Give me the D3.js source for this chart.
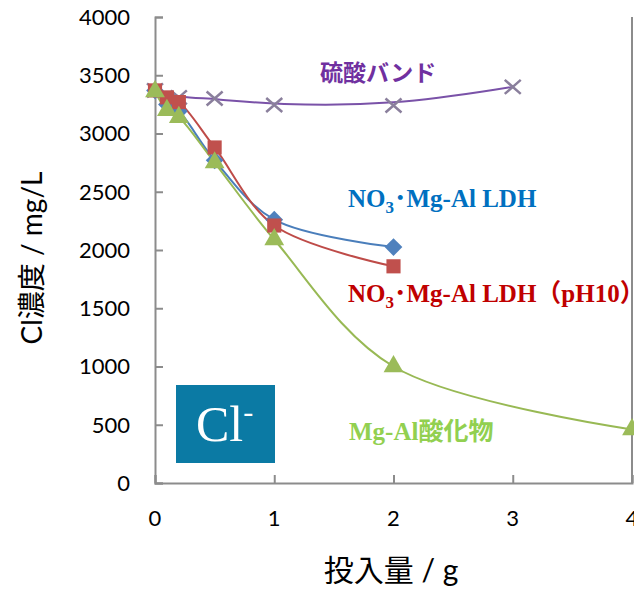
<!DOCTYPE html>
<html><head><meta charset="utf-8">
<script src="https://cdn.jsdelivr.net/npm/d3@7/dist/d3.min.js"></script>
<style>body{margin:0;background:#fff}svg{display:block}</style>
</head><body>
<svg id="c" width="634" height="590"></svg>
<script>
// ---- data ----
const xTicks = [0, 1, 2, 3, 4];
const yTicks = [0, 500, 1000, 1500, 2000, 2500, 3000, 3500, 4000];

const sulfateX = [0, 0.2, 0.5, 1, 2, 3];
const sulfateY = [3370, 3310, 3300, 3245, 3240, 3400];

const ldhX = [0, 0.1, 0.2, 0.5, 1, 2];
const ldhY = [3370, 3250, 3190, 2770, 2260, 2025];

const ldhPhX = [0, 0.1, 0.2, 0.5, 1, 2];
const ldhPhY = [3370, 3310, 3270, 2880, 2210, 1860];

const oxideX = [0, 0.1, 0.2, 0.5, 1, 2, 4];
const oxideY = [3360, 3200, 3140, 2750, 2090, 1000, 460];

const svg = d3.select("#c");
const x = d3.scaleLinear().domain([0, 4]).range([155, 632]);
const y = d3.scaleLinear().domain([0, 4000]).range([483, 17]);

const axisColor = "#8c8c8c";
const tickFont = "Lato, 'Noto Sans CJK JP', sans-serif";

// axes
const yAxis = svg.append("g").attr("transform", `translate(${x(0)},0)`)
  .call(d3.axisRight(y).tickValues(yTicks).tickSize(8).tickFormat(""));
const xAxis = svg.append("g").attr("transform", `translate(0,${y(0)})`)
  .call(d3.axisTop(x).tickValues(xTicks).tickSize(8).tickFormat(""));
[yAxis, xAxis].forEach(g => {
  g.selectAll("path").attr("stroke", axisColor).attr("stroke-width", 2);
  g.selectAll("line").attr("stroke", axisColor).attr("stroke-width", 2);
});
// right border
svg.append("line").attr("x1", x(4)).attr("x2", x(4)).attr("y1", y(4000)).attr("y2", y(0))
  .attr("stroke", axisColor).attr("stroke-width", 2);

// tick labels
svg.append("g").selectAll("text").data(yTicks).join("text")
  .attr("x", 130).attr("y", d => y(d)).attr("dy", "0.36em")
  .attr("text-anchor", "end").attr("font-family", tickFont).attr("font-size", 22)
  .attr("fill", "#000").text(d => d);
svg.append("g").selectAll("text").data(xTicks).join("text")
  .attr("x", d => x(d)).attr("y", 526)
  .attr("text-anchor", "middle").attr("font-family", tickFont).attr("font-size", 22)
  .attr("fill", "#000").text(d => d);

// axis titles
svg.append("text").attr("transform", "translate(42,258) rotate(-90)")
  .attr("text-anchor", "middle").attr("font-family", tickFont).attr("font-size", 28)
  .text("Cl濃度 / mg/L");
svg.append("text").attr("x", 391).attr("y", 581)
  .attr("text-anchor", "middle").attr("font-family", tickFont).attr("font-size", 30)
  .text("投入量 / g");

// series
function pts(xs, ys) { return xs.map((v, i) => [v, ys[i]]); }
const line = (curve) => d3.line().x(d => x(d[0])).y(d => y(d[1])).curve(curve);

const series = [
  { data: pts(sulfateX, sulfateY), color: "#7a52a8", curve: d3.curveBasis, marker: "x", mcolor: "#8a7f9c" },
  { data: pts(ldhX, ldhY), color: "#4a7ebb", curve: d3.curveCatmullRom.alpha(0.5), marker: "diamond", mcolor: "#4f81bd" },
  { data: pts(ldhPhX, ldhPhY), color: "#be4b48", curve: d3.curveCatmullRom.alpha(0.5), marker: "square", mcolor: "#c0504d" },
  { data: pts(oxideX, oxideY), color: "#98b954", curve: d3.curveCatmullRom.alpha(0.5), marker: "triangle", mcolor: "#9bbb59" }
];

series.forEach(s => {
  svg.append("path").datum(s.data).attr("d", line(s.curve)).attr("fill", "none")
    .attr("stroke", s.color).attr("stroke-width", 2);
});
const sym = {
  diamond: d3.symbol().type(d3.symbolDiamond2).size(200),
  square: d3.symbol().type(d3.symbolSquare).size(200),
  triangle: d3.symbol().type(d3.symbolTriangle).size(170)
};
series.forEach(s => {
  const g = svg.append("g");
  s.data.forEach(d => {
    const cx = x(d[0]), cy = y(d[1]);
    if (s.marker === "x") {
      g.append("path").attr("d", `M${cx-8},${cy-7}L${cx+8},${cy+7}M${cx-8},${cy+7}L${cx+8},${cy-7}`)
        .attr("stroke", s.mcolor).attr("stroke-width", 2.5).attr("fill", "none");
    } else {
      g.append("path").attr("d", sym[s.marker]()).attr("transform", `translate(${cx},${cy})`)
        .attr("fill", s.mcolor);
    }
  });
});

// labels
const serif = "'Liberation Serif', 'Noto Sans CJK JP', serif";
svg.append("text").attr("x", 320).attr("y", 81).attr("font-family", "'Noto Sans CJK JP', sans-serif")
  .attr("font-weight", "bold").attr("font-size", 23).attr("fill", "#7030a0").text("硫酸バンド");

function ldhLabel(yb, color, suffix) {
  const t = svg.append("text").attr("x", 348).attr("y", yb).attr("font-family", serif)
    .attr("font-weight", "bold").attr("font-size", 25).attr("fill", color);
  t.append("tspan").text("NO");
  t.append("tspan").attr("font-size", 17).attr("dy", 6).text("3");
  t.append("tspan").attr("dy", -6).attr("font-family", "'Noto Sans CJK JP', sans-serif").text("･");
  t.append("tspan").text("Mg-Al LDH" + suffix);
}
ldhLabel(207, "#0070c0", "");
ldhLabel(302, "#c00000", "（pH10）");

const gl = svg.append("text").attr("x", 349).attr("y", 440).attr("font-weight", "bold")
  .attr("font-size", 25).attr("fill", "#92d050");
gl.append("tspan").attr("font-family", serif).text("Mg-Al");
gl.append("tspan").attr("font-family", "'Noto Sans CJK JP', sans-serif").text("酸化物");

// Cl- box
svg.append("rect").attr("x", 176).attr("y", 385).attr("width", 99).attr("height", 78).attr("fill", "#0b7aa4");
const cl = svg.append("text").attr("x", 196).attr("y", 441).attr("font-family", serif)
  .attr("font-size", 50).attr("fill", "#fff");
cl.append("tspan").text("Cl");
cl.append("tspan").attr("font-size", 30).attr("dy", -19).text("-");
</script>
</body></html>
